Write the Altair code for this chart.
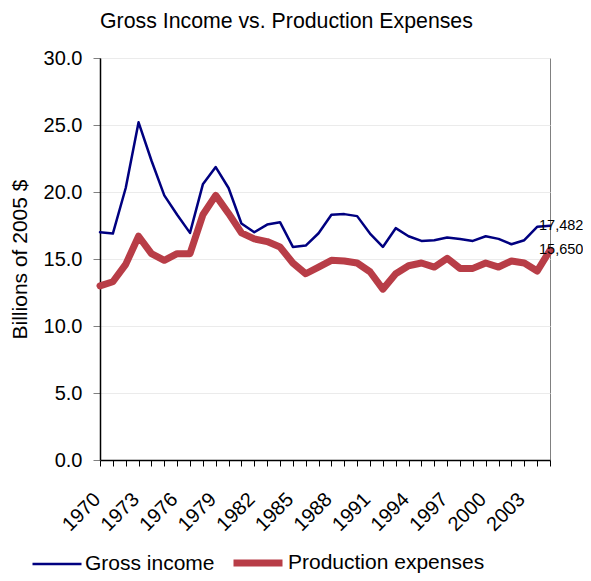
import altair as alt
import pandas as pd

years = list(range(1970, 2006))
gross_income = [17.0, 16.9, 20.3, 25.2, 22.35, 19.75, 18.3, 16.95, 20.57, 21.86,
                20.3, 17.65, 17.0, 17.57, 17.75, 15.9, 16.0, 16.92, 18.3, 18.35,
                18.2, 16.9, 15.9, 17.3, 16.7, 16.35, 16.4, 16.6, 16.5, 16.35,
                16.7, 16.5, 16.1, 16.4, 17.4, 17.482]
production_expenses = [13.0, 13.3, 14.6, 16.7, 15.4, 14.9, 15.4, 15.4, 18.3, 19.75,
                       18.4, 16.95, 16.5, 16.3, 15.9, 14.7, 13.9, 14.4, 14.9, 14.85,
                       14.7, 14.05, 12.75, 13.9, 14.5, 14.7, 14.4, 15.05, 14.3, 14.3,
                       14.7, 14.4, 14.85, 14.7, 14.1, 15.65]
series_names = ["Gross income", "Production expenses"]
series_colors = ["#000080", "#B83D47"]
series_widths = [2.5, 7]
y_ticks = [0, 5, 10, 15, 20, 25, 30]

rows = []
for yr, g, p in zip(years, gross_income, production_expenses):
    rows.append({"year": yr, "series": series_names[0], "value": g})
    rows.append({"year": yr, "series": series_names[1], "value": p})
df = pd.DataFrame(rows)

end_vals = [gross_income[-1], production_expenses[-1]]
end_df = pd.DataFrame({
    "year": [years[-1]] * 2,
    "series": series_names,
    "value": end_vals,
    "label": [f"{round(v * 1000):,}" for v in end_vals],
})

FONT = "Liberation Sans, Arial, sans-serif"

x_scale = alt.Scale(domain=[years[0], years[-1]], nice=False, zero=False)
y_scale = alt.Scale(domain=[0, 30], nice=False)

x_axis = alt.Axis(
    title=None, values=years,
    labelExpr="(datum.value - 1970) % 3 == 0 ? '' + datum.value : ''",
    labelAngle=-45, labelAlign="right", labelBaseline="middle",
    labelPadding=30, labelOffset=-3, labelOverlap=False, labelFlush=False,
    labelFontSize=20, labelFont=FONT, labelColor="black",
    tickSize=6, tickColor="black", domainColor="black", domainWidth=1.5,
    grid=False,
)
y_axis = alt.Axis(
    title="Billions of 2005 $", values=y_ticks, format=".1f",
    titleFontSize=21, titleFont=FONT, titleFontWeight="normal", titleColor="black",
    titlePadding=13,
    labelFontSize=20, labelFont=FONT, labelColor="black", labelPadding=11,
    tickSize=7, tickColor="#808080", domainColor="black", domainWidth=1.5,
    grid=True, gridColor="#ebebeb",
)

x_enc = alt.X("year:Q", scale=x_scale, axis=x_axis)
y_enc = alt.Y("value:Q", scale=y_scale, axis=y_axis)

legend = alt.Legend(
    title=None, orient="none", legendX=-69, legendY=477, direction="horizontal",
    symbolType="stroke", symbolSize=2401, labelFontSize=21, labelFont=FONT,
    labelColor="black", labelOffset=2, columnPadding=4, padding=0, labelLimit=400,
)

lines = alt.Chart(df).mark_line(strokeJoin="round", strokeCap="round").encode(
    x=x_enc,
    y=y_enc,
    color=alt.Color("series:N", scale=alt.Scale(domain=series_names, range=series_colors), legend=legend),
    strokeWidth=alt.StrokeWidth("series:N", scale=alt.Scale(type="ordinal", domain=series_names, range=series_widths), legend=legend),
)

labels = alt.Chart(end_df).mark_text(
    align="left", baseline="middle", dx=-11, fontSize=14.5, font=FONT, color="black"
).encode(
    x=x_enc,
    y=y_enc,
    text="label:N",
)

chart = alt.layer(lines, labels).properties(
    width=450,
    height=402,
    title=alt.TitleParams(
        text="Gross Income vs. Production Expenses", anchor="start", frame="group",
        fontSize=21.3, font=FONT, fontWeight="normal", color="black", offset=16,
    ),
    padding={"left": 92, "top": 50, "right": 33, "bottom": 113},
    autosize=alt.AutoSizeParams(type="none"),
).configure_view(stroke="#808080", strokeWidth=1)

chart.save("out.html", embed_options={"renderer": "svg", "actions": False})
